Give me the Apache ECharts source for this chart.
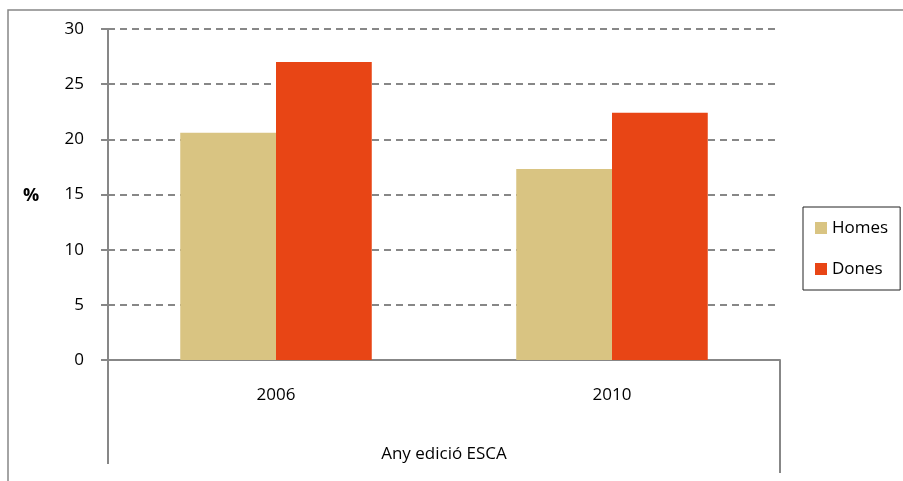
<!DOCTYPE html>
<html>
<head>
<meta charset="utf-8">
<script src="https://cdn.jsdelivr.net/npm/echarts@6/dist/echarts.min.js"></script>
<style>html,body{margin:0;padding:0;background:#fff;}#c{width:903px;height:481px;}</style>
</head>
<body>
<div id="c"></div>
<script>
const categories = ['2006', '2010'];
const seriesNames = ['Homes', 'Dones'];
const homesValues = [20.6, 17.3];
const donesValues = [27.0, 22.4];
const yTicks = [0, 5, 10, 15, 20, 25, 30];

const FONT = 'Open Sans';
const GRAY = '#878787';
const chart = echarts.init(document.getElementById('c'));
const option = {
  animation: false,
  textStyle: { fontFamily: FONT },
  grid: { left: 108, right: 123, top: 29, bottom: 121 },
  legend: {
    orient: 'vertical', left: 803, top: 207,
    data: seriesNames,
    icon: 'rect', itemWidth: 12, itemHeight: 12, itemGap: 21,
    padding: [11, 12, 11, 12],
    borderColor: '#222', borderWidth: 1,
    textStyle: { fontFamily: FONT, fontSize: 17, color: '#000', lineHeight: 20 }
  },
  xAxis: {
    type: 'category', data: categories,
    name: 'Any edició ESCA', nameLocation: 'middle', nameGap: 86,
    nameTextStyle: { fontFamily: FONT, fontSize: 17, color: '#000' },
    axisLine: { lineStyle: { color: GRAY, width: 2 } },
    axisTick: { show: false },
    axisLabel: { fontFamily: FONT, fontSize: 17, color: '#000', margin: 27 }
  },
  yAxis: {
    type: 'value', min: yTicks[0], max: yTicks[yTicks.length - 1], interval: 5,
    axisLine: { show: true, lineStyle: { color: GRAY, width: 2 } },
    axisTick: { show: true, length: 7, lineStyle: { color: GRAY, width: 2 } },
    axisLabel: { fontFamily: FONT, fontSize: 17, color: '#000', margin: 24 },
    splitLine: { lineStyle: { color: GRAY, width: 2, type: [7, 5] } }
  },
  series: [
    { name: seriesNames[0], type: 'bar', data: homesValues, barGap: '0%', barCategoryGap: '43%',
      itemStyle: { color: '#D9C482' } },
    { name: seriesNames[1], type: 'bar', data: donesValues, barGap: '0%', barCategoryGap: '43%',
      itemStyle: { color: '#E84515' } }
  ]
};
chart.setOption(option);

// Decorative frame elements positioned from the library's scales
const c0 = chart.convertToPixel({ xAxisIndex: 0 }, categories[0]);
const c1 = chart.convertToPixel({ xAxisIndex: 0 }, categories[1]);
const bw = c1 - c0;
const leftEdge = c0 - bw / 2;
const rightEdge = c1 + bw / 2;
const yZero = chart.convertToPixel({ yAxisIndex: 0 }, 0);
chart.setOption({
  graphic: [
    { type: 'rect', shape: { x: 8, y: 10, width: 1200, height: 1200 },
      style: { fill: null, stroke: GRAY, lineWidth: 1.5 }, silent: true },
    { type: 'line', shape: { x1: leftEdge, y1: yZero, x2: leftEdge, y2: yZero + 104 },
      style: { stroke: GRAY, lineWidth: 2 }, silent: true },
    { type: 'line', shape: { x1: rightEdge, y1: yZero, x2: rightEdge, y2: yZero + 113 },
      style: { stroke: GRAY, lineWidth: 2 }, silent: true },
    { type: 'text', x: 31, y: 196,
      style: { text: '%', font: 'bold 18px "Open Sans"', fill: '#000', textAlign: 'center', textVerticalAlign: 'middle' } }
  ]
});
</script>
</body>
</html>
